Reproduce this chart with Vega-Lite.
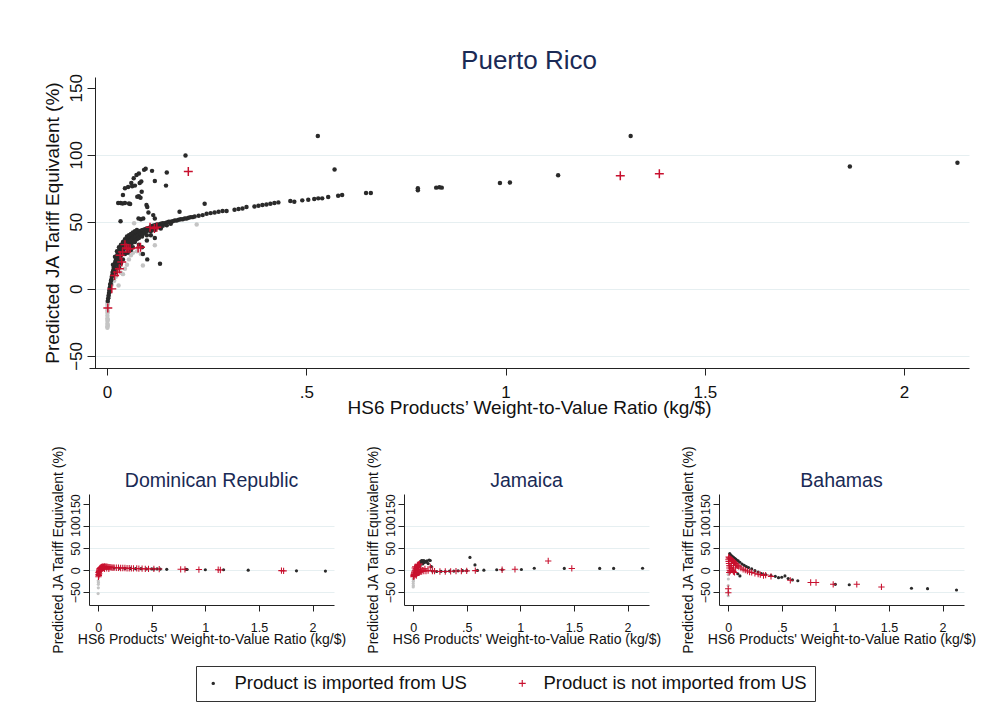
{
  "$schema": "https://vega.github.io/schema/vega-lite/v6.json",
  "background": "white",
  "padding": {"left": 42, "top": 47, "right": 20, "bottom": 10},
  "config": {
    "font": "Liberation Sans",
    "view": {"stroke": null},
    "axis": {"domainColor": "#222222", "tickColor": "#222222", "labelColor": "#111111", "titleColor": "#111111", "titleFontWeight": "normal", "gridColor": "#e6eff1", "labelFont": "Liberation Sans", "titleFont": "Liberation Sans"},
    "title": {"fontWeight": "normal", "color": "#1a2a55", "font": "Liberation Sans", "frame": "group"}
  },
  "datasets": {
    "pr": [
      {"x":0.001,"y":-10,"t":"gr"},{"x":0.001,"y":-12,"t":"gr"},{"x":0.001,"y":-14,"t":"gr"},{"x":0.001,"y":-16,"t":"gr"},{"x":0.001,"y":-18,"t":"gr"},{"x":0.001,"y":-20,"t":"gr"},{"x":0.001,"y":-22,"t":"gr"},{"x":0.001,"y":-24,"t":"gr"},{"x":0.001,"y":-26,"t":"gr"},{"x":0.001,"y":-28,"t":"gr"},{"x":0.001,"y":-29,"t":"gr"},{"x":0.002,"y":-11,"t":"gr"},{"x":0.002,"y":-17,"t":"gr"},{"x":0.002,"y":-23,"t":"gr"},{"x":0.002,"y":-27,"t":"gr"},{"x":0.005,"y":-6,"t":"gr"},{"x":0.008,"y":-2,"t":"gr"},{"x":0.012,"y":3,"t":"gr"},{"x":0.018,"y":6,"t":"gr"},{"x":0.022,"y":9,"t":"gr"},{"x":0.029,"y":2.5,"t":"gr"},{"x":0.035,"y":12,"t":"gr"},{"x":0.04,"y":11,"t":"gr"},{"x":0.045,"y":15,"t":"gr"},{"x":0.05,"y":18,"t":"gr"},{"x":0.055,"y":22,"t":"gr"},{"x":0.06,"y":25,"t":"gr"},{"x":0.065,"y":27,"t":"gr"},{"x":0.075,"y":28,"t":"gr"},{"x":0.09,"y":17.5,"t":"gr"},{"x":0.085,"y":26,"t":"gr"},{"x":0.12,"y":32.5,"t":"gr"},{"x":0.068,"y":49,"t":"gr"},{"x":0.225,"y":48,"t":"gr"},{"x":0.03,"y":20,"t":"gr"},{"x":0.025,"y":14,"t":"gr"},
      {"x":0.002,"y":-9,"t":"us"},{"x":0.003,"y":-7,"t":"us"},{"x":0.004,"y":-5,"t":"us"},{"x":0.005,"y":-3,"t":"us"},{"x":0.006,"y":-1,"t":"us"},{"x":0.007,"y":1,"t":"us"},{"x":0.008,"y":3,"t":"us"},{"x":0.009,"y":4,"t":"us"},{"x":0.01,"y":6,"t":"us"},{"x":0.011,"y":7,"t":"us"},{"x":0.012,"y":9,"t":"us"},{"x":0.013,"y":10,"t":"us"},{"x":0.014,"y":12,"t":"us"},{"x":0.015,"y":13,"t":"us"},{"x":0.016,"y":14,"t":"us"},{"x":0.017,"y":16,"t":"us"},{"x":0.018,"y":17,"t":"us"},{"x":0.019,"y":18,"t":"us"},{"x":0.02,"y":19,"t":"us"},{"x":0.021,"y":20,"t":"us"},{"x":0.022,"y":21,"t":"us"},{"x":0.023,"y":22,"t":"us"},{"x":0.024,"y":23,"t":"us"},{"x":0.025,"y":24,"t":"us"},{"x":0.026,"y":25,"t":"us"},{"x":0.027,"y":26,"t":"us"},{"x":0.028,"y":27,"t":"us"},{"x":0.03,"y":28,"t":"us"},{"x":0.032,"y":29,"t":"us"},{"x":0.034,"y":30,"t":"us"},{"x":0.036,"y":31,"t":"us"},{"x":0.038,"y":32,"t":"us"},{"x":0.04,"y":33,"t":"us"},{"x":0.042,"y":34,"t":"us"},{"x":0.045,"y":35,"t":"us"},{"x":0.048,"y":36,"t":"us"},{"x":0.05,"y":37,"t":"us"},{"x":0.053,"y":37.5,"t":"us"},{"x":0.056,"y":38,"t":"us"},{"x":0.06,"y":39,"t":"us"},{"x":0.063,"y":39.5,"t":"us"},{"x":0.066,"y":40,"t":"us"},{"x":0.07,"y":41,"t":"us"},{"x":0.074,"y":41.5,"t":"us"},{"x":0.078,"y":42,"t":"us"},{"x":0.082,"y":43,"t":"us"},{"x":0.086,"y":43.5,"t":"us"},{"x":0.09,"y":44,"t":"us"},{"x":0.095,"y":44.5,"t":"us"},{"x":0.1,"y":45,"t":"us"},{"x":0.105,"y":45.5,"t":"us"},{"x":0.11,"y":46.5,"t":"us"},{"x":0.115,"y":47,"t":"us"},{"x":0.12,"y":47.5,"t":"us"},{"x":0.125,"y":48,"t":"us"},{"x":0.13,"y":48,"t":"us"},{"x":0.135,"y":48.5,"t":"us"},{"x":0.14,"y":49,"t":"us"},{"x":0.145,"y":49,"t":"us"},{"x":0.15,"y":49.5,"t":"us"},{"x":0.155,"y":50,"t":"us"},{"x":0.16,"y":50,"t":"us"},{"x":0.165,"y":50.5,"t":"us"},{"x":0.17,"y":51,"t":"us"},{"x":0.175,"y":51,"t":"us"},{"x":0.18,"y":51.5,"t":"us"},{"x":0.185,"y":52,"t":"us"},{"x":0.19,"y":52,"t":"us"},{"x":0.195,"y":52.5,"t":"us"},{"x":0.2,"y":52.5,"t":"us"},{"x":0.205,"y":53,"t":"us"},{"x":0.21,"y":53.5,"t":"us"},{"x":0.215,"y":53.5,"t":"us"},{"x":0.22,"y":54,"t":"us"},{"x":0.23,"y":54.5,"t":"us"},{"x":0.24,"y":55,"t":"us"},{"x":0.25,"y":56,"t":"us"},{"x":0.26,"y":56.5,"t":"us"},{"x":0.27,"y":57,"t":"us"},{"x":0.28,"y":57.5,"t":"us"},{"x":0.29,"y":58,"t":"us"},{"x":0.3,"y":58,"t":"us"},{"x":0.32,"y":59,"t":"us"},{"x":0.33,"y":59.5,"t":"us"},{"x":0.34,"y":60,"t":"us"},{"x":0.35,"y":61,"t":"us"},{"x":0.37,"y":61.5,"t":"us"},{"x":0.38,"y":62,"t":"us"},{"x":0.39,"y":62.5,"t":"us"},{"x":0.4,"y":63,"t":"us"},{"x":0.41,"y":63.5,"t":"us"},{"x":0.42,"y":64,"t":"us"},{"x":0.43,"y":64.5,"t":"us"},{"x":0.46,"y":65.5,"t":"us"},{"x":0.47,"y":65,"t":"us"},{"x":0.49,"y":66,"t":"us"},{"x":0.505,"y":66.5,"t":"us"},{"x":0.52,"y":67,"t":"us"},{"x":0.53,"y":67.5,"t":"us"},{"x":0.54,"y":67.5,"t":"us"},{"x":0.555,"y":68.5,"t":"us"},{"x":0.58,"y":69.5,"t":"us"},{"x":0.59,"y":70,"t":"us"},{"x":0.65,"y":71.5,"t":"us"},{"x":0.662,"y":71.5,"t":"us"},{"x":0.78,"y":73.5,"t":"us"},{"x":0.78,"y":75,"t":"us"},{"x":0.826,"y":75.5,"t":"us"},{"x":0.834,"y":75.75,"t":"us"},{"x":0.84,"y":75.5,"t":"us"},{"x":0.986,"y":79,"t":"us"},{"x":1.011,"y":79.3,"t":"us"},{"x":1.132,"y":84.8,"t":"us"},{"x":1.314,"y":114,"t":"us"},{"x":1.864,"y":91.3,"t":"us"},{"x":2.134,"y":94,"t":"us"},
      {"x":0.02,"y":12,"t":"us"},{"x":0.022,"y":15,"t":"us"},{"x":0.025,"y":18,"t":"us"},{"x":0.027,"y":20,"t":"us"},{"x":0.03,"y":22,"t":"us"},{"x":0.03,"y":16,"t":"us"},{"x":0.032,"y":24,"t":"us"},{"x":0.035,"y":25,"t":"us"},{"x":0.035,"y":19,"t":"us"},{"x":0.038,"y":27,"t":"us"},{"x":0.04,"y":28,"t":"us"},{"x":0.04,"y":22,"t":"us"},{"x":0.042,"y":30,"t":"us"},{"x":0.045,"y":31,"t":"us"},{"x":0.045,"y":26,"t":"us"},{"x":0.048,"y":33,"t":"us"},{"x":0.05,"y":30,"t":"us"},{"x":0.05,"y":34,"t":"us"},{"x":0.052,"y":27,"t":"us"},{"x":0.055,"y":35,"t":"us"},{"x":0.055,"y":31,"t":"us"},{"x":0.058,"y":33,"t":"us"},{"x":0.06,"y":36,"t":"us"},{"x":0.06,"y":29,"t":"us"},{"x":0.062,"y":34,"t":"us"},{"x":0.065,"y":37,"t":"us"},{"x":0.065,"y":31,"t":"us"},{"x":0.068,"y":38,"t":"us"},{"x":0.07,"y":35,"t":"us"},{"x":0.072,"y":39,"t":"us"},{"x":0.075,"y":37,"t":"us"},{"x":0.078,"y":40,"t":"us"},{"x":0.08,"y":38,"t":"us"},{"x":0.08,"y":33,"t":"us"},{"x":0.085,"y":41,"t":"us"},{"x":0.088,"y":39,"t":"us"},{"x":0.09,"y":41,"t":"us"},{"x":0.095,"y":42,"t":"us"},{"x":0.1,"y":43,"t":"us"},{"x":0.1,"y":40,"t":"us"},{"x":0.105,"y":44,"t":"us"},{"x":0.11,"y":43,"t":"us"},{"x":0.115,"y":45,"t":"us"},{"x":0.12,"y":44,"t":"us"},{"x":0.125,"y":46,"t":"us"},{"x":0.13,"y":46,"t":"us"},{"x":0.135,"y":45,"t":"us"},{"x":0.14,"y":47,"t":"us"},{"x":0.15,"y":47.5,"t":"us"},{"x":0.16,"y":48.5,"t":"us"},{"x":0.03,"y":31,"t":"us"},{"x":0.035,"y":33,"t":"us"},{"x":0.04,"y":35,"t":"us"},{"x":0.045,"y":37,"t":"us"},{"x":0.05,"y":39,"t":"us"},{"x":0.055,"y":40,"t":"us"},{"x":0.06,"y":41,"t":"us"},{"x":0.065,"y":42,"t":"us"},{"x":0.07,"y":43,"t":"us"},{"x":0.075,"y":44,"t":"us"},{"x":0.025,"y":28,"t":"us"},{"x":0.02,"y":24,"t":"us"},{"x":0.015,"y":18,"t":"us"},{"x":0.088,"y":31,"t":"us"},{"x":0.101,"y":22,"t":"us"},{"x":0.133,"y":18.75,"t":"us"},{"x":0.09,"y":26,"t":"us"},{"x":0.1,"y":36,"t":"us"},{"x":0.11,"y":40,"t":"us"},{"x":0.12,"y":38,"t":"us"},
      {"x":0.097,"y":89.5,"t":"us"},{"x":0.093,"y":88.75,"t":"us"},{"x":0.08,"y":86,"t":"us"},{"x":0.074,"y":85,"t":"us"},{"x":0.067,"y":82.5,"t":"us"},{"x":0.061,"y":79,"t":"us"},{"x":0.053,"y":76,"t":"us"},{"x":0.045,"y":75,"t":"us"},{"x":0.04,"y":70,"t":"us"},{"x":0.028,"y":64,"t":"us"},{"x":0.034,"y":64,"t":"us"},{"x":0.045,"y":64,"t":"us"},{"x":0.055,"y":63.75,"t":"us"},{"x":0.034,"y":50.5,"t":"us"},{"x":0.082,"y":79,"t":"us"},{"x":0.087,"y":72.5,"t":"us"},{"x":0.08,"y":69,"t":"us"},{"x":0.084,"y":68,"t":"us"},{"x":0.099,"y":62.5,"t":"us"},{"x":0.101,"y":61,"t":"us"},{"x":0.113,"y":88,"t":"us"},{"x":0.12,"y":80.5,"t":"us"},{"x":0.15,"y":86.8,"t":"us"},{"x":0.148,"y":77,"t":"us"},{"x":0.182,"y":57.5,"t":"us"},{"x":0.245,"y":63.5,"t":"us"},{"x":0.116,"y":55,"t":"us"},{"x":0.12,"y":52.5,"t":"us"},{"x":0.091,"y":52.5,"t":"us"},{"x":0.197,"y":99.5,"t":"us"},{"x":0.529,"y":114,"t":"us"},{"x":0.571,"y":89,"t":"us"},{"x":0.07,"y":77,"t":"us"},{"x":0.063,"y":76.5,"t":"us"},{"x":0.086,"y":80,"t":"us"},{"x":0.076,"y":68.75,"t":"us"},{"x":0.039,"y":63.75,"t":"us"},{"x":0.058,"y":63.25,"t":"us"},{"x":0.104,"y":57,"t":"us"},{"x":0.079,"y":52.5,"t":"us"},{"x":0.085,"y":52,"t":"us"},
      {"x":0.002,"y":-14.25,"t":"no"},{"x":0.012,"y":0,"t":"no"},{"x":0.019,"y":10,"t":"no"},{"x":0.026,"y":12.5,"t":"no"},{"x":0.031,"y":15,"t":"no"},{"x":0.037,"y":20,"t":"no"},{"x":0.033,"y":25,"t":"no"},{"x":0.039,"y":27.5,"t":"no"},{"x":0.049,"y":30.5,"t":"no"},{"x":0.045,"y":33,"t":"no"},{"x":0.053,"y":30,"t":"no"},{"x":0.058,"y":30,"t":"no"},{"x":0.078,"y":30.5,"t":"no"},{"x":0.084,"y":31,"t":"no"},{"x":0.108,"y":46,"t":"no"},{"x":0.119,"y":45,"t":"no"},{"x":0.125,"y":46,"t":"no"},{"x":0.204,"y":87.5,"t":"no"},{"x":1.288,"y":84.4,"t":"no"},{"x":1.386,"y":85.9,"t":"no"}
    ],
    "dr": [
      {"x":0,"y":-53,"t":"gr"},{"x":0.002,"y":-32,"t":"gr"},{"x":0.001,"y":-24,"t":"gr"},{"x":0.002,"y":-40,"t":"gr"},{"x":0.003,"y":-28,"t":"gr"},
      {"x":0.5,"y":3,"t":"us"},{"x":0.52,"y":2.5,"t":"us"},{"x":0.55,"y":3,"t":"us"},{"x":0.58,"y":2.5,"t":"us"},{"x":0.64,"y":2,"t":"us"},{"x":0.82,"y":2,"t":"us"},{"x":0.83,"y":1.5,"t":"us"},{"x":1.0,"y":1,"t":"us"},{"x":1.17,"y":1,"t":"us"},{"x":1.4,"y":0,"t":"us"},{"x":1.85,"y":-1.5,"t":"us"},{"x":2.12,"y":-2,"t":"us"},{"x":0.45,"y":3,"t":"us"},{"x":0.4,"y":3.5,"t":"us"},{"x":0.35,"y":3.5,"t":"us"},{"x":0.3,"y":4,"t":"us"},{"x":0.25,"y":4,"t":"us"},{"x":0.2,"y":4.5,"t":"us"},{"x":0.15,"y":5,"t":"us"},{"x":0.1,"y":6,"t":"us"},{"x":0.07,"y":5,"t":"us"},{"x":0.05,"y":4,"t":"us"},{"x":0.03,"y":2,"t":"us"},{"x":0.02,"y":0,"t":"us"},{"x":0.01,"y":-4,"t":"us"},{"x":0.005,"y":-8,"t":"us"},
      {"x":0.003,"y":-15,"t":"no"},{"x":0.004,"y":-10,"t":"no"},{"x":0.006,"y":-6,"t":"no"},{"x":0.008,"y":-3,"t":"no"},{"x":0.01,"y":0,"t":"no"},{"x":0.012,"y":2,"t":"no"},{"x":0.015,"y":4,"t":"no"},{"x":0.02,"y":5,"t":"no"},{"x":0.025,"y":6,"t":"no"},{"x":0.03,"y":7,"t":"no"},{"x":0.035,"y":7.5,"t":"no"},{"x":0.04,"y":8,"t":"no"},{"x":0.05,"y":8,"t":"no"},{"x":0.06,"y":8.5,"t":"no"},{"x":0.07,"y":8,"t":"no"},{"x":0.08,"y":8,"t":"no"},{"x":0.09,"y":7.5,"t":"no"},{"x":0.1,"y":7,"t":"no"},{"x":0.11,"y":7,"t":"no"},{"x":0.12,"y":6.5,"t":"no"},{"x":0.13,"y":6,"t":"no"},{"x":0.14,"y":6,"t":"no"},{"x":0.15,"y":6,"t":"no"},{"x":0.17,"y":5.5,"t":"no"},{"x":0.19,"y":5.5,"t":"no"},{"x":0.21,"y":5,"t":"no"},{"x":0.23,"y":5,"t":"no"},{"x":0.25,"y":5,"t":"no"},{"x":0.27,"y":4.5,"t":"no"},{"x":0.29,"y":4.5,"t":"no"},{"x":0.31,"y":4,"t":"no"},{"x":0.33,"y":4,"t":"no"},{"x":0.36,"y":4,"t":"no"},{"x":0.38,"y":3.5,"t":"no"},{"x":0.41,"y":3.5,"t":"no"},{"x":0.44,"y":3,"t":"no"},{"x":0.47,"y":3,"t":"no"},{"x":0.52,"y":3,"t":"no"},{"x":0.57,"y":2.5,"t":"no"},{"x":0.77,"y":2,"t":"no"},{"x":0.81,"y":2,"t":"no"},{"x":0.94,"y":1.5,"t":"no"},{"x":1.12,"y":1,"t":"no"},{"x":1.14,"y":0.5,"t":"no"},{"x":1.71,"y":-1,"t":"no"},{"x":1.73,"y":-1.5,"t":"no"},{"x":0.02,"y":0,"t":"no"},{"x":0.03,"y":3,"t":"no"},{"x":0.04,"y":4,"t":"no"},{"x":0.05,"y":5,"t":"no"},{"x":0.06,"y":3,"t":"no"},{"x":0.08,"y":4,"t":"no"},{"x":0.1,"y":3,"t":"no"},{"x":0.015,"y":-2,"t":"no"},{"x":0.007,"y":-12,"t":"no"},{"x":0.005,"y":-5,"t":"no"},{"x":0.01,"y":-8,"t":"no"}
    ],
    "jm": [
      {"x":0.001,"y":-20,"t":"gr"},{"x":0.002,"y":-25,"t":"gr"},{"x":0.001,"y":-30,"t":"gr"},{"x":0.002,"y":-35,"t":"gr"},{"x":0.001,"y":-38,"t":"gr"},{"x":0.003,"y":-22,"t":"gr"},
      {"x":0.05,"y":12,"t":"us"},{"x":0.06,"y":16,"t":"us"},{"x":0.07,"y":20,"t":"us"},{"x":0.075,"y":18,"t":"us"},{"x":0.08,"y":22,"t":"us"},{"x":0.085,"y":21,"t":"us"},{"x":0.09,"y":19,"t":"us"},{"x":0.1,"y":22,"t":"us"},{"x":0.11,"y":20,"t":"us"},{"x":0.12,"y":18,"t":"us"},{"x":0.13,"y":21,"t":"us"},{"x":0.15,"y":23,"t":"us"},{"x":0.16,"y":22,"t":"us"},{"x":0.14,"y":15,"t":"us"},{"x":0.065,"y":10,"t":"us"},{"x":0.09,"y":14,"t":"us"},{"x":0.1,"y":17,"t":"us"},{"x":0.17,"y":8,"t":"us"},{"x":0.18,"y":-2,"t":"us"},{"x":0.22,"y":-3,"t":"us"},{"x":0.26,"y":-2.5,"t":"us"},{"x":0.3,"y":-3,"t":"us"},{"x":0.34,"y":-2,"t":"us"},{"x":0.38,"y":-2,"t":"us"},{"x":0.42,"y":-1.5,"t":"us"},{"x":0.46,"y":-1,"t":"us"},{"x":0.5,"y":-1,"t":"us"},{"x":0.53,"y":29,"t":"us"},{"x":0.577,"y":12,"t":"us"},{"x":0.6,"y":-0.5,"t":"us"},{"x":0.66,"y":0,"t":"us"},{"x":0.78,"y":1,"t":"us"},{"x":0.83,"y":1,"t":"us"},{"x":1.01,"y":1.5,"t":"us"},{"x":1.13,"y":4.5,"t":"us"},{"x":1.41,"y":4,"t":"us"},{"x":1.74,"y":4,"t":"us"},{"x":1.87,"y":4,"t":"us"},{"x":2.14,"y":4.5,"t":"us"},{"x":0.03,"y":5,"t":"us"},{"x":0.04,"y":8,"t":"us"},
      {"x":0.002,"y":-15,"t":"no"},{"x":0.004,"y":-12,"t":"no"},{"x":0.006,"y":-10,"t":"no"},{"x":0.008,"y":-8,"t":"no"},{"x":0.01,"y":-6,"t":"no"},{"x":0.012,"y":-4,"t":"no"},{"x":0.015,"y":-2,"t":"no"},{"x":0.02,"y":0,"t":"no"},{"x":0.025,"y":2,"t":"no"},{"x":0.03,"y":4,"t":"no"},{"x":0.035,"y":6,"t":"no"},{"x":0.04,"y":8,"t":"no"},{"x":0.045,"y":10,"t":"no"},{"x":0.05,"y":13,"t":"no"},{"x":0.06,"y":14,"t":"no"},{"x":0.02,"y":-10,"t":"no"},{"x":0.03,"y":-8,"t":"no"},{"x":0.04,"y":-6,"t":"no"},{"x":0.05,"y":-5,"t":"no"},{"x":0.06,"y":-4,"t":"no"},{"x":0.07,"y":-3,"t":"no"},{"x":0.08,"y":-3,"t":"no"},{"x":0.1,"y":-2,"t":"no"},{"x":0.12,"y":-2,"t":"no"},{"x":0.14,"y":-1,"t":"no"},{"x":0.16,"y":7.5,"t":"no"},{"x":0.18,"y":-2,"t":"no"},{"x":0.2,"y":-2,"t":"no"},{"x":0.25,"y":-3,"t":"no"},{"x":0.3,"y":-3,"t":"no"},{"x":0.35,"y":-2.5,"t":"no"},{"x":0.4,"y":-2,"t":"no"},{"x":0.45,"y":-2,"t":"no"},{"x":0.5,"y":-1.5,"t":"no"},{"x":0.58,"y":-1,"t":"no"},{"x":0.83,"y":1,"t":"no"},{"x":0.95,"y":2,"t":"no"},{"x":1.26,"y":21,"t":"no"},{"x":1.48,"y":4,"t":"no"},{"x":0.03,"y":-12,"t":"no"},{"x":0.01,"y":-14,"t":"no"},{"x":0.05,"y":2,"t":"no"},{"x":0.07,"y":5,"t":"no"},{"x":0.09,"y":0,"t":"no"},{"x":0.11,"y":3,"t":"no"},{"x":0.02,"y":8,"t":"no"},{"x":0.04,"y":12,"t":"no"},{"x":0.015,"y":5,"t":"no"}
    ],
    "bh": [
      {"x":0.001,"y":-10,"t":"gr"},{"x":0.002,"y":-20,"t":"gr"},{"x":0.001,"y":-35,"t":"gr"},{"x":0.002,"y":-50,"t":"gr"},{"x":0.001,"y":-58,"t":"gr"},{"x":0.003,"y":-5,"t":"gr"},
      {"x":0.015,"y":38,"t":"us"},{"x":0.02,"y":35,"t":"us"},{"x":0.03,"y":33,"t":"us"},{"x":0.04,"y":31,"t":"us"},{"x":0.05,"y":29,"t":"us"},{"x":0.06,"y":27,"t":"us"},{"x":0.07,"y":25,"t":"us"},{"x":0.08,"y":23,"t":"us"},{"x":0.094,"y":21,"t":"us"},{"x":0.11,"y":18,"t":"us"},{"x":0.13,"y":14,"t":"us"},{"x":0.15,"y":11,"t":"us"},{"x":0.17,"y":8,"t":"us"},{"x":0.19,"y":6,"t":"us"},{"x":0.22,"y":3,"t":"us"},{"x":0.25,"y":-1,"t":"us"},{"x":0.28,"y":-4,"t":"us"},{"x":0.31,"y":-7.5,"t":"us"},{"x":0.35,"y":-10,"t":"us"},{"x":0.4,"y":-12,"t":"us"},{"x":0.44,"y":-14,"t":"us"},{"x":0.47,"y":-17,"t":"us"},{"x":0.5,"y":-16,"t":"us"},{"x":0.53,"y":-13,"t":"us"},{"x":0.56,"y":-19,"t":"us"},{"x":0.6,"y":-22,"t":"us"},{"x":0.65,"y":-24,"t":"us"},{"x":1.0,"y":-32,"t":"us"},{"x":1.13,"y":-33,"t":"us"},{"x":1.71,"y":-41,"t":"us"},{"x":1.86,"y":-42,"t":"us"},{"x":2.13,"y":-45,"t":"us"},{"x":0.11,"y":-13,"t":"us"},{"x":0.09,"y":-8,"t":"us"},{"x":0.04,"y":20,"t":"us"},{"x":0.06,"y":15,"t":"us"},
      {"x":0.003,"y":25,"t":"no"},{"x":0.005,"y":20,"t":"no"},{"x":0.008,"y":15,"t":"no"},{"x":0.01,"y":10,"t":"no"},{"x":0.012,"y":5,"t":"no"},{"x":0.015,"y":0,"t":"no"},{"x":0.005,"y":30,"t":"no"},{"x":0.01,"y":28,"t":"no"},{"x":0.02,"y":26,"t":"no"},{"x":0.03,"y":24,"t":"no"},{"x":0.04,"y":22,"t":"no"},{"x":0.05,"y":20,"t":"no"},{"x":0.06,"y":18,"t":"no"},{"x":0.07,"y":15,"t":"no"},{"x":0.08,"y":12,"t":"no"},{"x":0.09,"y":10,"t":"no"},{"x":0.1,"y":8,"t":"no"},{"x":0.12,"y":5,"t":"no"},{"x":0.14,"y":2,"t":"no"},{"x":0.16,"y":0,"t":"no"},{"x":0.18,"y":-2,"t":"no"},{"x":0.2,"y":-4,"t":"no"},{"x":0.22,"y":-5,"t":"no"},{"x":0.25,"y":-7,"t":"no"},{"x":0.28,"y":-9,"t":"no"},{"x":0.3,"y":-10,"t":"no"},{"x":0.33,"y":-12,"t":"no"},{"x":0.35,"y":-11,"t":"no"},{"x":0.4,"y":-14,"t":"no"},{"x":0.02,"y":10,"t":"no"},{"x":0.03,"y":5,"t":"no"},{"x":0.04,"y":0,"t":"no"},{"x":0.05,"y":-3,"t":"no"},{"x":0.06,"y":-5,"t":"no"},{"x":0.02,"y":-2,"t":"no"},{"x":0.01,"y":-5,"t":"no"},{"x":0.58,"y":-23,"t":"no"},{"x":0.77,"y":-28,"t":"no"},{"x":0.82,"y":-28,"t":"no"},{"x":0.98,"y":-32,"t":"no"},{"x":1.2,"y":-32,"t":"no"},{"x":1.43,"y":-38,"t":"no"},{"x":0.001,"y":-42,"t":"no"},{"x":0.002,"y":-51,"t":"no"},{"x":0.03,"y":15,"t":"no"},{"x":0.05,"y":10,"t":"no"},{"x":0.07,"y":5,"t":"no"}
    ]
  },
  "spacing": 28,
  "resolve": {"scale": {"color": "shared", "shape": "shared"}},
  "vconcat": [
    {
      "width": 880,
      "height": 291,
      "data": {"name": "pr"},
      "title": {"text": "Puerto Rico", "fontSize": 26, "offset": 0},
      "mark": {"type": "point", "filled": true, "opacity": 1, "size": 20},
      "encoding": {
        "x": {"field": "x", "type": "quantitative", "scale": {"domain": [-0.0452, 2.163], "nice": false, "zero": false},
          "axis": {"values": [0, 0.5, 1, 1.5, 2], "labelExpr": "datum.value == 0.5 ? '.5' : format(datum.value, '~g')", "title": "HS6 Products’ Weight-to-Value Ratio (kg/$)", "grid": false, "labelFontSize": 17, "titleFontSize": 19, "tickSize": 7, "labelPadding": 9, "titlePadding": -2, "labelFlush": false}},
        "y": {"field": "y", "type": "quantitative", "scale": {"domain": [-59, 158], "nice": false, "zero": false},
          "axis": {"offset": -6, "values": [-50, 0, 50, 100, 150], "labelAngle": -90, "labelAlign": "center", "labelBaseline": "bottom", "title": "Predicted JA Tariff Equivalent (%)", "grid": true, "gridOpacity": {"condition": {"test": "datum.value === 150", "value": 0}, "value": 1}, "labelFontSize": 17, "titleFontSize": 19, "tickSize": 8, "labelPadding": 2, "titlePadding": 5, "labelFlush": false}},
        "color": {"field": "t", "type": "nominal", "scale": {"domain": ["gr", "us", "no"], "range": ["#c4c4c4", "#2a2a2a", "#c8102e"]},
          "legend": {"values": ["us", "no"], "labelExpr": "datum.value == 'us' ? 'Product is imported from US' : 'Product is not imported from US'", "orient": "none", "legendX": 107, "legendY": 589, "direction": "horizontal", "title": null, "labelFontSize": 18.5, "labelFont": "Liberation Sans", "labelColor": "#111111", "labelLimit": 400, "symbolSize": 12, "strokeColor": "#333333", "padding": 8, "columnPadding": 46, "labelOffset": 12}},
        "shape": {"field": "t", "type": "nominal", "scale": {"domain": ["gr", "us", "no"], "range": ["circle", "circle", "M-2,-0.33H-0.33V-2H0.33V-0.33H2V0.33H0.33V2H-0.33V0.33H-2Z"]},
          "legend": {"values": ["us", "no"], "labelExpr": "datum.value == 'us' ? 'Product is imported from US' : 'Product is not imported from US'", "orient": "none", "legendX": 107, "legendY": 589, "direction": "horizontal", "title": null, "labelFontSize": 18.5, "labelFont": "Liberation Sans", "labelColor": "#111111", "labelLimit": 400, "symbolSize": 12, "strokeColor": "#333333", "padding": 8, "columnPadding": 46, "labelOffset": 12}}
      }
    },
    {
      "spacing": 19,
      "hconcat": [
        {
          "width": 245, "height": 111,
          "data": {"name": "dr"},
          "title": {"text": "Dominican Republic", "fontSize": 19.5, "offset": -46},
          "mark": {"type": "point", "filled": true, "opacity": 1, "size": 10},
          "encoding": {
            "x": {"field": "x", "type": "quantitative", "scale": {"domain": [-0.085, 2.2], "nice": false, "zero": false},
              "axis": {"values": [0, 0.5, 1, 1.5, 2], "labelExpr": "datum.value == 0.5 ? '.5' : format(datum.value, '~g')", "title": "HS6 Products' Weight-to-Value Ratio (kg/$)", "grid": false, "labelFontSize": 12.5, "titleFontSize": 14, "tickSize": 6, "labelPadding": 10, "titlePadding": -1, "labelFlush": false}},
            "y": {"field": "y", "type": "quantitative", "scale": {"domain": [-79, 173], "nice": false, "zero": false},
              "axis": {"values": [-50, 0, 50, 100, 150], "labelAngle": -90, "labelAlign": "center", "labelBaseline": "bottom", "title": "Predicted JA Tariff Equivalent (%)", "grid": true, "gridOpacity": {"condition": {"test": "datum.value === 150", "value": 0}, "value": 1}, "labelFontSize": 12.5, "titleFontSize": 14, "tickSize": 6, "labelPadding": 1, "titlePadding": 4, "labelFlush": false}},
            "color": {"field": "t", "type": "nominal"},
            "shape": {"field": "t", "type": "nominal"}
          }
        },
        {
          "width": 245, "height": 111,
          "data": {"name": "jm"},
          "title": {"text": "Jamaica", "fontSize": 19.5, "offset": -46},
          "mark": {"type": "point", "filled": true, "opacity": 1, "size": 10},
          "encoding": {
            "x": {"field": "x", "type": "quantitative", "scale": {"domain": [-0.085, 2.2], "nice": false, "zero": false},
              "axis": {"values": [0, 0.5, 1, 1.5, 2], "labelExpr": "datum.value == 0.5 ? '.5' : format(datum.value, '~g')", "title": "HS6 Products' Weight-to-Value Ratio (kg/$)", "grid": false, "labelFontSize": 12.5, "titleFontSize": 14, "tickSize": 6, "labelPadding": 10, "titlePadding": -1, "labelFlush": false}},
            "y": {"field": "y", "type": "quantitative", "scale": {"domain": [-79, 173], "nice": false, "zero": false},
              "axis": {"values": [-50, 0, 50, 100, 150], "labelAngle": -90, "labelAlign": "center", "labelBaseline": "bottom", "title": "Predicted JA Tariff Equivalent (%)", "grid": true, "gridOpacity": {"condition": {"test": "datum.value === 150", "value": 0}, "value": 1}, "labelFontSize": 12.5, "titleFontSize": 14, "tickSize": 6, "labelPadding": 1, "titlePadding": 4, "labelFlush": false}},
            "color": {"field": "t", "type": "nominal"},
            "shape": {"field": "t", "type": "nominal"}
          }
        },
        {
          "width": 245, "height": 111,
          "data": {"name": "bh"},
          "title": {"text": "Bahamas", "fontSize": 19.5, "offset": -46},
          "mark": {"type": "point", "filled": true, "opacity": 1, "size": 10},
          "encoding": {
            "x": {"field": "x", "type": "quantitative", "scale": {"domain": [-0.085, 2.2], "nice": false, "zero": false},
              "axis": {"values": [0, 0.5, 1, 1.5, 2], "labelExpr": "datum.value == 0.5 ? '.5' : format(datum.value, '~g')", "title": "HS6 Products' Weight-to-Value Ratio (kg/$)", "grid": false, "labelFontSize": 12.5, "titleFontSize": 14, "tickSize": 6, "labelPadding": 10, "titlePadding": -1, "labelFlush": false}},
            "y": {"field": "y", "type": "quantitative", "scale": {"domain": [-79, 173], "nice": false, "zero": false},
              "axis": {"values": [-50, 0, 50, 100, 150], "labelAngle": -90, "labelAlign": "center", "labelBaseline": "bottom", "title": "Predicted JA Tariff Equivalent (%)", "grid": true, "gridOpacity": {"condition": {"test": "datum.value === 150", "value": 0}, "value": 1}, "labelFontSize": 12.5, "titleFontSize": 14, "tickSize": 6, "labelPadding": 1, "titlePadding": 4, "labelFlush": false}},
            "color": {"field": "t", "type": "nominal"},
            "shape": {"field": "t", "type": "nominal"}
          }
        }
      ]
    }
  ]
}
